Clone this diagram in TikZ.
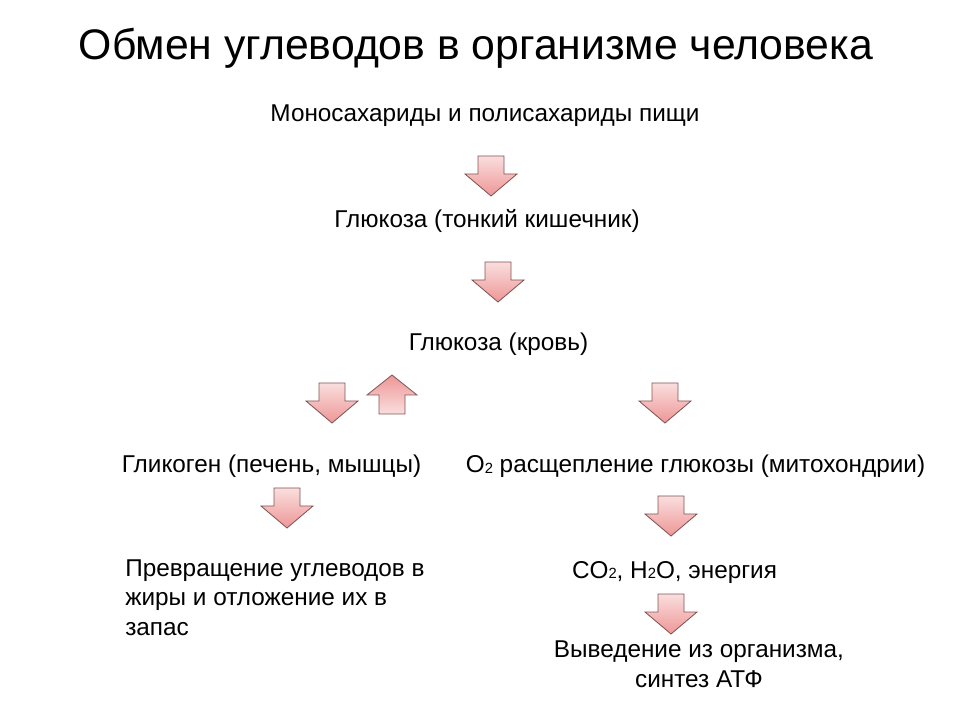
\documentclass[tikz,border=0pt]{standalone}
\usepackage{fontspec}
\setmainfont{Liberation Sans}
\usepackage{tikz}
\usetikzlibrary{positioning}
\definecolor{arrowtop}{RGB}{250,222,222}
\definecolor{arrowbottom}{RGB}{238,150,150}
\definecolor{arrowline}{RGB}{130,85,85}
\newcommand{\smallsub}[1]{\raisebox{-0.6pt}{\fontsize{10.5pt}{10.5pt}\selectfont #1}}
\tikzset{
    % blocky pink arrows
    blockdown/.style={
        draw=arrowline,
        line width=0.6pt,
        line join=miter,
        top color=arrowtop,
        bottom color=arrowbottom
    },
    blockup/.style={
        draw=arrowline,
        line width=0.6pt,
        line join=miter,
        top color=arrowbottom,
        bottom color=arrowtop
    },
    caption/.style={
        anchor=base,
        inner sep=0pt,
        font=\fontsize{17.3pt}{20.9pt}\selectfont
    },
    pics/downarrow/.style={
        code={\draw[blockdown] (-13,0) -- (13,0) -- (13,18) -- (26,18) -- (0,40)
            -- (-26,18) -- (-13,18) -- cycle;}
    },
    pics/uparrow/.style={
        code={\draw[blockup] (-13,0) -- (13,0) -- (13,-19) -- (25,-19) -- (0,-39)
            -- (-25,-19) -- (-13,-19) -- cycle;}
    }
}
\begin{document}
\begin{tikzpicture}[x=0.025cm,y=-0.025cm]
    \useasboundingbox (0,0) rectangle (960,720);

    \node[anchor=base,inner sep=0pt,font=\fontsize{30.4pt}{34pt}\selectfont] (title) at (476,60)
        {Обмен углеводов в организме человека};

    \node[caption] (mono) at (485,122) {Моносахариды и полисахариды пищи};
    \node[caption] (glukint) at (487,228) {Глюкоза (тонкий кишечник)};
    \node[caption] (glukblood) at (498.5,351) {Глюкоза (кровь)};
    \node[caption] (glycogen) at (271.5,473) {Гликоген (печень, мышцы)};
    \node[caption] (oxid) at (695.5,473) {O\smallsub{2} расщепление глюкозы (митохондрии)};
    % base of a multi-line node is its last line
    \node[caption,anchor=base west,align=left] (fats) at (125,635)
        {Превращение углеводов в\\жиры и отложение их в\\запас};
    \node[caption] (products) at (674.5,578) {CO\smallsub{2}, H\smallsub{2}O, энергия};
    \node[caption,anchor=base,align=center] (excret) at (699,687)
        {Выведение из организма,\\синтез АТФ};

    \pic at (491,156) {downarrow};
    \pic at (498,262) {downarrow};
    \pic at (332,383) {downarrow};
    \pic at (392,414) {uparrow};
    \pic at (665,383) {downarrow};
    \pic at (287,488) {downarrow};
    \pic at (671,496) {downarrow};
    \pic at (671,594) {downarrow};
\end{tikzpicture}
\end{document}
